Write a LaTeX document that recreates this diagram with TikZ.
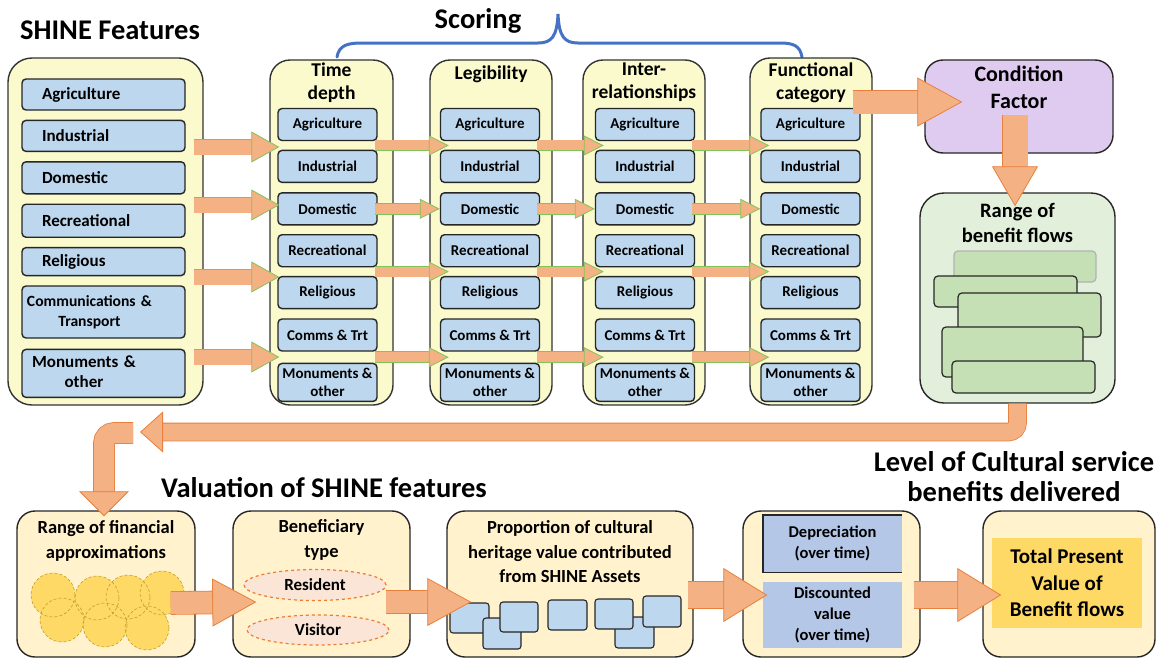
\documentclass[tikz,border=0pt]{standalone}
\usepackage{fontspec}
\setmainfont{Carlito}
\usetikzlibrary{shapes.geometric, arrows.meta, positioning, calc}
\definecolor{cColBg}{RGB}{250,250,204}
\definecolor{cItem}{RGB}{189,215,238}
\definecolor{cArrow}{RGB}{244,177,131}
\definecolor{cArrowEdge}{RGB}{232,128,62}
\definecolor{cArrowGreen}{RGB}{130,196,90}
\definecolor{cCond}{RGB}{224,203,240}
\definecolor{cFlowBg}{RGB}{226,239,218}
\definecolor{cFlow}{RGB}{197,224,180}
\definecolor{cValBg}{RGB}{255,242,204}
\definecolor{cGold}{RGB}{255,217,102}
\definecolor{cGoldEdge}{RGB}{196,160,40}
\definecolor{cPink}{RGB}{251,229,214}
\definecolor{cDash}{RGB}{237,125,49}
\definecolor{cSteel}{RGB}{180,199,231}
\definecolor{cBrace}{RGB}{68,114,196}
\newcommand{\fsz}[2]{\fontsize{#1}{#2}\selectfont}
\tikzset{
	colbox/.style    ={rectangle, rounded corners=20pt, draw=black!80, line width=1.4pt, fill=cColBg},
	item/.style      ={rectangle, rounded corners=4pt, draw=black!85, line width=1.4pt, fill=cItem, minimum width=99pt, minimum height=32pt, align=center, inner sep=1pt, font=\fsz{15}{18}\bfseries},
	feat/.style      ={item, text width=123pt, inner xsep=20pt, align=left, font=\fsz{17}{20}\bfseries},
	colhead/.style   ={align=center, inner sep=0pt, font=\fsz{19.5}{23}\bfseries},
	bigtitle/.style  ={align=center, inner sep=0pt, font=\fsz{28.5}{31}\bfseries},
	condbox/.style   ={rectangle, rounded corners=18pt, draw=black!85, line width=1.4pt, fill=cCond, minimum width=188pt, minimum height=93pt},
	flowbox/.style   ={rectangle, rounded corners=24pt, draw=black!85, line width=1.4pt, fill=cFlowBg, minimum width=195pt, minimum height=210pt},
	flowbar/.style   ={rounded corners=4pt, fill=cFlow, draw=black!85, line width=1.2pt},
	valbox/.style    ={rectangle, rounded corners=18pt, draw=black!85, line width=1.4pt, fill=cValBg, minimum height=146pt},
	valtext/.style   ={align=center, inner sep=0pt, font=\fsz{18.5}{24.5}\bfseries},
	asset/.style     ={rounded corners=3pt, fill=cItem, draw=black!85, line width=1.1pt},
	who/.style       ={ellipse, minimum width=142pt, minimum height=31pt, fill=cPink, draw=cDash, dashed, line width=1.2pt, font=\fsz{17}{19}\bfseries},
	steelbox/.style  ={rectangle, fill=cSteel, minimum width=139pt, align=center, inner sep=0pt, font=\fsz{16.5}{21}\bfseries},
	blockarrow/.style n args={4}{draw=cArrow, line width=#1, -{Triangle[length=#2, width=#3, fill=cArrow, color=#4, line width=0.8pt]}, preaction={draw=#4, line width=#1+1.6pt, shorten >=#2-1pt, -}},
	featarrow/.style ={blockarrow={15pt}{28pt}{31pt}{cArrowGreen}},
	colarrow/.style  ={blockarrow={10pt}{20pt}{20pt}{cArrowGreen}},
	condarrow/.style ={blockarrow={23pt}{45pt}{49pt}{cArrowEdge}},
	flowdown/.style  ={blockarrow={25pt}{40pt}{46pt}{cArrowEdge}},
	backarrow/.style ={blockarrow={17pt}{23pt}{41pt}{cArrowEdge}, rounded corners=9pt},
	elbowarrow/.style={blockarrow={20pt}{25pt}{50pt}{cArrowEdge}, rounded corners=10pt},
	valarrow/.style  ={blockarrow={22pt}{44pt}{48pt}{cArrowEdge}},
	stagearrow/.style={blockarrow={26pt}{44pt}{54pt}{cArrowEdge}},
}

\begin{document}
\begin{tikzpicture}[x=1pt, y=-1pt, every node/.style={font=\fsz{15}{17}}, node distance=9pt]
	\useasboundingbox (0,0) rectangle (1168,659);
	\node[bigtitle] (tShine) at (110,30) {SHINE Features};
	\node[bigtitle] (tScore) at (478,21) {Scoring};
	\node[bigtitle] (tVal) at (324,488) {Valuation of SHINE features};
	\node[bigtitle, font=\fsz{28.5}{30}\bfseries] (tLevel) at (1014,477) {Level of Cultural service\\benefits delivered};
	\draw[cBrace, line width=3pt, line cap=round] (337,57) .. controls (339,45) and (348,43) .. (362,43) -- (538,43) .. controls (552,43) and (557,36) .. (558,14) .. controls (559,36) and (564,43) .. (578,43) -- (780,43) .. controls (794,43) and (800,46) .. (802,57);

	\node[colbox, rounded corners=24pt, minimum width=195pt, minimum height=347pt] (shineBox) at (105.5,231.5) {};
	\node[colbox, minimum width=123pt, minimum height=345pt] (tdBox) at (331.5,232.5) {};
	\node[colbox, minimum width=122pt, minimum height=345pt] (lgBox) at (491,232.5) {};
	\node[colbox, minimum width=122pt, minimum height=345pt] (irBox) at (644,232.5) {};
	\node[colbox, minimum width=122pt, minimum height=347pt] (fcBox) at (811,231.5) {};
	\node[colhead, below=3pt of tdBox.north] (tdHead) {Time\\depth};
	\node[colhead, below=6pt of lgBox.north] (lgHead) {Legibility};
	\node[colhead, below=3pt of irBox.north] (irHead) {Inter-\\relationships};
	\node[colhead, below=5pt of fcBox.north] (fcHead) {Functional\\category};

	\node[feat, minimum height=31pt] (shine1) at (103.5,94.5) {Agriculture};
	\node[feat, minimum height=31pt, below=of shine1] (shine2) {Industrial};
	\node[feat, minimum height=32pt, below=of shine2] (shine3) {Domestic};
	\node[feat, minimum height=33pt, below=of shine3] (shine4) {Recreational};
	\node[feat, minimum height=28pt, below=of shine4] (shine5) {Religious};
	\node[feat, minimum height=52pt, below=of shine5, text width=153pt, inner xsep=5pt, font=\fsz{15.6}{20}\bfseries] (shine6) {\begin{tabular}{@{}c@{}}Communications \&\\Transport\end{tabular}};
	\node[feat, minimum height=48pt, below=10pt of shine6, text width=143pt, inner xsep=10pt] (shine7) {\begin{tabular}{@{}c@{}}Monuments \&\\other\end{tabular}};

	\foreach \c/\x in {td/327.5, lg/490, ir/645, fc/810.5} {
		\node[item] (\c1) at (\x,124.5) {Agriculture};
		\node[item, below=8.5pt of \c1] (\c2) {Industrial};
		\node[item, below=of \c2] (\c3) {Domestic};
		\node[item, below=8.5pt of \c3] (\c4) {Recreational};
		\node[item, below=8.5pt of \c4] (\c5) {Religious};
		\node[item, below=of \c5] (\c6) {Comms \& Trt};
		\node[item, below=11pt of \c6, minimum height=38pt] (\c7) {Monuments \&\\other};
	}

	\node[condbox] (cond) at (1019,106.5) {};
	\node[colhead, below=7pt of cond.north, font=\fsz{22}{27}\bfseries] (condText) {Condition\\Factor};
	\node[flowbox] (range) at (1017.5,298) {};
	\node[colhead, below=11pt of range.north, font=\fsz{20.5}{25}\bfseries] (rangeText) {Range of\\benefit flows};
	\draw[flowbar, draw=black!30] (954,251) rectangle (1096,282);
	\foreach \xa/\ya/\xb/\yb in {934/276/1077/307, 958/293/1101/337, 942/327/1083/377, 952/361/1095/393}
		\draw[flowbar] (\xa,\ya) rectangle (\xb,\yb);

	\foreach \y in {147,205,277,357}
		\draw[featarrow] ($(shineBox.east |- 0,\y)+(-10,0)$) -- ($(td1.west |- 0,\y)+(2,0)$);
	\foreach \a/\b in {td/lg, lg/ir, ir/fc} {
		\draw[colarrow] ([xshift=-3pt]$(\a1.south east)!.5!(\a2.north east)$) -- ([xshift=9pt]$(\b1.south west)!.5!(\b2.north west)$);
		\draw[colarrow] ([xshift=-3pt]\a3.east) -- (\b3.west);
		\draw[colarrow] ([xshift=-3pt]$(\a4.south east)!.5!(\a5.north east)$) -- ([xshift=9pt]$(\b4.south west)!.5!(\b5.north west)$);
		\draw[colarrow] ([xshift=-3pt]$(\a6.south east)!.5!(\a7.north east)$) -- ([xshift=9pt]$(\b6.south west)!.5!(\b7.north west)$);
	}
	\draw[condarrow] ($(fcBox.east |- cond.west)+(-20,-4.5)$) -- ([shift={(38,-4.5)}]cond.west);
	\draw[flowdown] ([shift={(-4,8.5)}]cond.center) -- ([shift={(-2.5,14)}]range.north);

	\node[valbox, minimum width=178pt] (finBox) at (106,584) {};
	\node[valbox, minimum width=177pt] (benBox) at (321.5,584) {};
	\node[valbox, minimum width=246pt] (propBox) at (570,584) {};
	\node[valbox, minimum width=177pt] (discBox) at (831.5,584) {};
	\node[valbox, minimum width=172pt] (totalBox) at (1069,584) {};
	\node[valtext, below=10pt of finBox.north] (finText) {Range of financial\\approximations};
	\node[valtext, below=9pt of benBox.north] (benText) {Beneficiary\\type};
	\node[valtext, below=10pt of propBox.north] (propText) {Proportion of cultural\\heritage value contributed\\from SHINE Assets};

	\foreach \x/\y in {53/595, 97/598, 128/597, 162/593, 62/620, 105/625, 147/628}
		\fill[cGold] (\x,\y) circle (22pt);
	\foreach \x/\y in {53/595, 97/598, 128/597, 162/593, 62/620, 105/625, 147/628}
		\draw[cGoldEdge, densely dashed, line width=0.6pt] (\x,\y) circle (22pt);
	\node[who] (resident) at (315,585) {Resident};
	\node[who, minimum height=30pt] (visitor) at (318,630) {Visitor};
	\foreach \xa/\ya/\xb/\yb in {450/603/489/633, 483/618/521/649, 500/602/538/632, 548/600/587/630, 615/617/654/648, 595/599/633/629, 643/596/681/627}
		\draw[asset] (\xa,\ya) rectangle (\xb,\yb);
	\node[steelbox, minimum height=57pt] (dep) at (832.5,543.5) {Depreciation\\(over time)};
	\draw[black!85, line width=1.4pt] (dep.north east) -- (dep.north west) -- (dep.south west) -- (dep.south east);
	\node[steelbox, minimum height=66pt] (disc) at (832.5,615) {Discounted\\value\\(over time)};
	\node[fill=cGold, minimum width=150pt, minimum height=90pt, align=center, inner sep=0pt, font=\fsz{21}{26.5}\bfseries] (totalIn) at (1067,583) {Total Present\\Value of\\Benefit flows};

	\draw[valarrow] ([shift={(-25,19)}]finBox.east) -- ([shift={(24,18)}]benBox.west);
	\draw[valarrow] ([shift={(-25,18)}]benBox.east) -- ([shift={(25,18)}]propBox.west);
	\draw[stagearrow] ([shift={(-6,11)}]propBox.east) -- ([shift={(25,11)}]discBox.west);
	\draw[stagearrow] ([shift={(-7,11)}]discBox.east) -- ([shift={(19,11)}]totalBox.west);

	\coordinate (backTip) at (140,432);
	\coordinate (elbowStart) at (133,433);
	\draw[backarrow] (range.south) |- (backTip);
	\draw[elbowarrow] (elbowStart) -| ([shift={(-2,6)}]finBox.north);
\end{tikzpicture}
\end{document}
